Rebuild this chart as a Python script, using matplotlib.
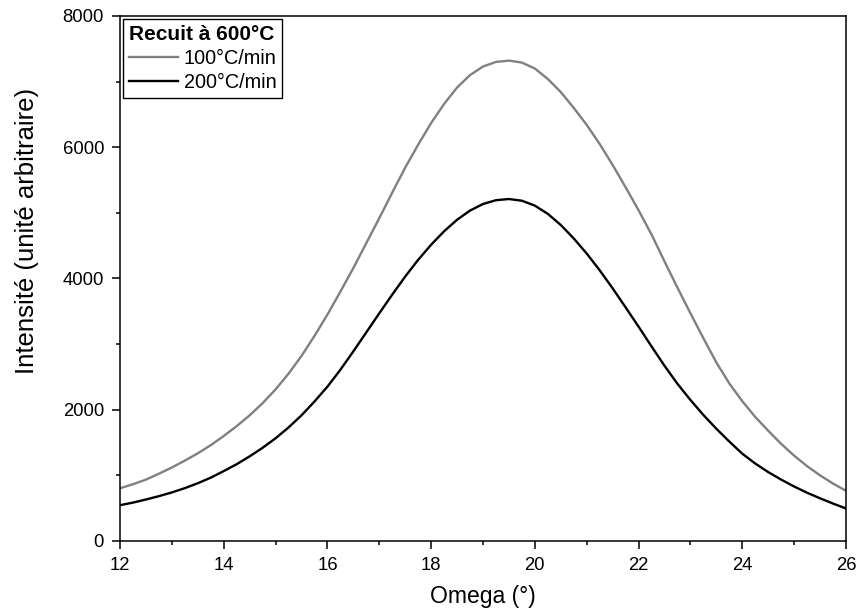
import matplotlib
matplotlib.use("Agg")
import matplotlib.pyplot as plt
from matplotlib.ticker import MultipleLocator

plt.rcParams['font.family'] = ['Liberation Sans', 'DejaVu Sans']

omega = [12.00, 12.25, 12.50, 12.75, 13.00, 13.25, 13.50, 13.75, 14.00, 14.25,
         14.50, 14.75, 15.00, 15.25, 15.50, 15.75, 16.00, 16.25, 16.50, 16.75,
         17.00, 17.25, 17.50, 17.75, 18.00, 18.25, 18.50, 18.75, 19.00, 19.25,
         19.50, 19.75, 20.00, 20.25, 20.50, 20.75, 21.00, 21.25, 21.50, 21.75,
         22.00, 22.25, 22.50, 22.75, 23.00, 23.25, 23.50, 23.75, 24.00, 24.25,
         24.50, 24.75, 25.00, 25.25, 25.50, 25.75, 26.00]
i_100 = [803, 865, 935, 1025, 1120, 1225, 1336, 1460, 1600, 1750,
         1915, 2100, 2310, 2550, 2820, 3125, 3450, 3800, 4160, 4540,
         4920, 5310, 5690, 6040, 6370, 6660, 6910, 7100, 7230, 7300,
         7320, 7290, 7200, 7040, 6840, 6600, 6340, 6050, 5730, 5390,
         5040, 4670, 4260, 3860, 3470, 3090, 2720, 2400, 2130, 1890,
         1680, 1480, 1300, 1140, 1000, 875, 765]
i_200 = [545, 585, 632, 683, 740, 805, 880, 965, 1065, 1170,
         1290, 1420, 1565, 1730, 1915, 2125, 2352, 2610, 2890, 3180,
         3470, 3755, 4030, 4285, 4515, 4720, 4895, 5035, 5135, 5193,
         5211, 5185, 5110, 4985, 4815, 4610, 4380, 4125, 3850, 3560,
         3266, 2965, 2670, 2395, 2149, 1920, 1710, 1515, 1330, 1180,
         1050, 935, 830, 735, 650, 570, 495]
series_labels = ['100°C/min', '200°C/min']
legend_title = 'Recuit à 600°C'

fig = plt.figure(figsize=(8.58, 6.13), dpi=100)
ax = fig.add_axes([0.1399, 0.1175, 0.986 - 0.1399, 0.9739 - 0.1175])

ax.plot(omega, i_100, color='#808080', lw=1.7, label=series_labels[0])
ax.plot(omega, i_200, color='black', lw=1.7, label=series_labels[1])

ax.set_xlim(12, 26)
ax.set_ylim(0, 8000)
ax.xaxis.set_major_locator(MultipleLocator(2))
ax.xaxis.set_minor_locator(MultipleLocator(1))
ax.yaxis.set_major_locator(MultipleLocator(2000))
ax.yaxis.set_minor_locator(MultipleLocator(1000))
ax.tick_params(which='major', direction='out', length=6, width=1.1, labelsize=13.3, pad=5.5)
ax.tick_params(which='minor', direction='out', length=3, width=1.1)
ax.tick_params(top=False, right=False)
for s in ax.spines.values():
    s.set_linewidth(1.1)

ax.set_xlabel('Omega (°)', fontsize=16.5, labelpad=8)
ax.set_ylabel('Intensité (unité arbitraire)', fontsize=18.5, labelpad=12)
ax.yaxis.set_label_coords(-0.112, 0.59)

leg = ax.legend(title=legend_title, loc='upper left', fontsize=14.3,
                title_fontproperties={'weight': 'bold', 'size': 15},
                frameon=True, fancybox=False, edgecolor='black', framealpha=1,
                borderaxespad=0.15, borderpad=0.3, handlelength=2.45,
                handletextpad=0.3, labelspacing=0.25, alignment='left')
leg.get_frame().set_linewidth(1.0)

fig.savefig('out.png', dpi=100)
